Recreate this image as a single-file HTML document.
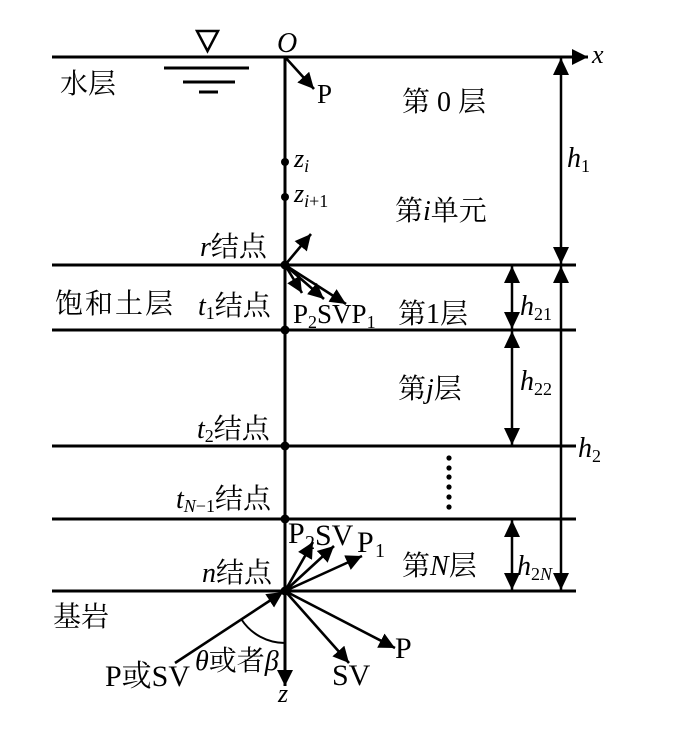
<!DOCTYPE html>
<html>
<head>
<meta charset="utf-8">
<style>
  html, body { margin: 0; padding: 0; background: #fff; }
  svg { display: block; }
  text { font-family: "Liberation Serif", "Noto Serif CJK SC", serif; fill: #000; }
  .it { font-style: italic; }
</style>
</head>
<body>
<svg width="693" height="732" viewBox="0 0 693 732" xmlns="http://www.w3.org/2000/svg">
  <defs>
    <marker id="ah" markerUnits="userSpaceOnUse" markerWidth="20" markerHeight="20" refX="16" refY="8" orient="auto-start-reverse">
      <path d="M0,0 L16,8 L0,16 z" fill="#000"/>
    </marker>
    <marker id="ahs" markerUnits="userSpaceOnUse" markerWidth="20" markerHeight="18" refX="16" refY="7.5" orient="auto">
      <path d="M0,0 L16,7.5 L0,15 z" fill="#000"/>
    </marker>
    <marker id="ahd" markerUnits="userSpaceOnUse" markerWidth="20" markerHeight="20" refX="17" refY="8" orient="auto-start-reverse">
      <path d="M0,0 L17,8 L0,16 z" fill="#000"/>
    </marker>
  </defs>

  <g stroke="#000" stroke-width="3" fill="none">
    <line x1="52" y1="57" x2="588" y2="57" marker-end="url(#ah)"/>
    <line x1="52" y1="265" x2="576" y2="265"/>
    <line x1="52" y1="330" x2="576" y2="330"/>
    <line x1="52" y1="446" x2="576" y2="446"/>
    <line x1="52" y1="519" x2="576" y2="519"/>
    <line x1="52" y1="591" x2="576" y2="591"/>
    <line x1="285" y1="57" x2="285" y2="686" marker-end="url(#ah)"/>

    <line x1="164" y1="68" x2="249" y2="68"/>
    <line x1="183" y1="82" x2="235" y2="82"/>
    <line x1="199" y1="92" x2="218" y2="92"/>
  </g>
  <polygon points="197,31 218,31 207.5,51" fill="none" stroke="#000" stroke-width="2.5"/>

  <g stroke="#000" stroke-width="2.5" fill="none">
    <line x1="561" y1="58" x2="561" y2="264" marker-start="url(#ahd)" marker-end="url(#ahd)"/>
    <line x1="561" y1="266" x2="561" y2="590" marker-start="url(#ahd)" marker-end="url(#ahd)"/>
    <line x1="512" y1="266" x2="512" y2="329" marker-start="url(#ahd)" marker-end="url(#ahd)"/>
    <line x1="512" y1="331" x2="512" y2="445" marker-start="url(#ahd)" marker-end="url(#ahd)"/>
    <line x1="512" y1="520" x2="512" y2="590" marker-start="url(#ahd)" marker-end="url(#ahd)"/>
  </g>

  <g stroke="#000" stroke-width="2.6" fill="none">
    <line x1="285" y1="57" x2="314" y2="89" marker-end="url(#ah)"/>
    <line x1="285" y1="265" x2="311" y2="234" marker-end="url(#ah)"/>
    <line x1="285" y1="265" x2="302" y2="293" marker-end="url(#ahs)"/>
    <line x1="285" y1="265" x2="324" y2="299" marker-end="url(#ahs)"/>
    <line x1="285" y1="265" x2="346" y2="304" marker-end="url(#ahs)"/>

    <line x1="285" y1="591" x2="313" y2="542" marker-end="url(#ah)"/>
    <line x1="285" y1="591" x2="334" y2="546" marker-end="url(#ah)"/>
    <line x1="285" y1="591" x2="362" y2="556" marker-end="url(#ah)"/>
    <line x1="175" y1="663" x2="283" y2="592" marker-end="url(#ah)"/>
    <line x1="285" y1="591" x2="349" y2="663" marker-end="url(#ah)"/>
    <line x1="285" y1="591" x2="395" y2="648" marker-end="url(#ah)"/>
  </g>
  <path d="M241.5,619.5 A52,52 0 0 0 285,643" stroke="#000" stroke-width="2" fill="none"/>

  <g fill="#000">
    <circle cx="285" cy="162" r="4"/>
    <circle cx="285" cy="197" r="4"/>
    <circle cx="285" cy="265" r="4.5"/>
    <circle cx="285" cy="330" r="4.5"/>
    <circle cx="285" cy="446" r="4.5"/>
    <circle cx="285" cy="519" r="4.5"/>
    <circle cx="285" cy="591" r="4.5"/>
    <circle cx="449" cy="458" r="2.6"/>
    <circle cx="449" cy="468" r="2.6"/>
    <circle cx="449" cy="477" r="2.6"/>
    <circle cx="449" cy="487" r="2.6"/>
    <circle cx="449" cy="497" r="2.6"/>
    <circle cx="449" cy="507" r="2.6"/>
  </g>

  <text x="277" y="52" font-size="28" class="it">O</text>
  <text x="592" y="63" font-size="26" class="it">x</text>
  <text x="60" y="93" font-size="28">水层</text>
  <text x="317" y="103" font-size="27">P</text>

  <text x="402" y="111" font-size="28">第</text>
  <text x="437" y="111" font-size="28">0</text>
  <text x="458" y="111" font-size="28">层</text>

  <text x="395" y="220" font-size="28">第<tspan class="it">i</tspan>单元</text>

  <text x="294" y="167" font-size="26" class="it">z<tspan font-size="18" dy="5">i</tspan></text>
  <text x="294" y="202" font-size="26" class="it">z<tspan font-size="18" dy="5">i</tspan><tspan font-size="18" style="font-style:normal">+1</tspan></text>

  <text x="200" y="256" font-size="28"><tspan class="it">r</tspan>结点</text>

  <text x="55" y="313" font-size="28" letter-spacing="2">饱和土层</text>
  <text x="198" y="315" font-size="28"><tspan class="it">t</tspan><tspan font-size="18" dy="4">1</tspan><tspan dy="-4">结点</tspan></text>

  <text x="293" y="323" font-size="27">P<tspan font-size="18" dy="5">2</tspan><tspan dy="-5">SV</tspan>P<tspan font-size="18" dy="5">1</tspan></text>
  <text x="398" y="323" font-size="28">第1层</text>

  <text x="567" y="167" font-size="28" class="it">h<tspan font-size="18" dy="5" style="font-style:normal">1</tspan></text>
  <text x="520" y="315" font-size="28" class="it">h<tspan font-size="18" dy="5" style="font-style:normal">21</tspan></text>
  <text x="520" y="390" font-size="28" class="it">h<tspan font-size="18" dy="5" style="font-style:normal">22</tspan></text>
  <text x="578" y="457" font-size="28" class="it">h<tspan font-size="18" dy="5" style="font-style:normal">2</tspan></text>
  <text x="517" y="575" font-size="28" class="it">h<tspan font-size="18" dy="5" style="font-style:normal">2</tspan><tspan font-size="18">N</tspan></text>

  <text x="398" y="398" font-size="28">第<tspan class="it">j</tspan>层</text>
  <text x="197" y="438" font-size="28"><tspan class="it">t</tspan><tspan font-size="18" dy="4">2</tspan><tspan dy="-4">结点</tspan></text>
  <text x="176" y="508" font-size="28"><tspan class="it">t</tspan><tspan font-size="18" dy="4" class="it">N</tspan><tspan font-size="18">−1</tspan><tspan dy="-4">结点</tspan></text>

  <text x="402" y="575" font-size="28">第<tspan class="it">N</tspan>层</text>

  <text x="288" y="543" font-size="30">P</text>
  <text x="305" y="549" font-size="20">2</text>
  <text x="315" y="545" font-size="30">SV</text>
  <text x="357" y="552" font-size="30">P</text>
  <text x="375" y="557" font-size="20">1</text>

  <text x="202" y="582" font-size="28"><tspan class="it">n</tspan>结点</text>
  <text x="53" y="626" font-size="28">基岩</text>

  <text x="105" y="686" font-size="30">P或SV</text>
  <text x="195" y="670" font-size="28"><tspan class="it">θ</tspan>或者<tspan class="it">β</tspan></text>
  <text x="332" y="685" font-size="30">SV</text>
  <text x="395" y="658" font-size="30">P</text>
  <text x="278" y="702" font-size="26" class="it">z</text>
</svg>
</body>
</html>
